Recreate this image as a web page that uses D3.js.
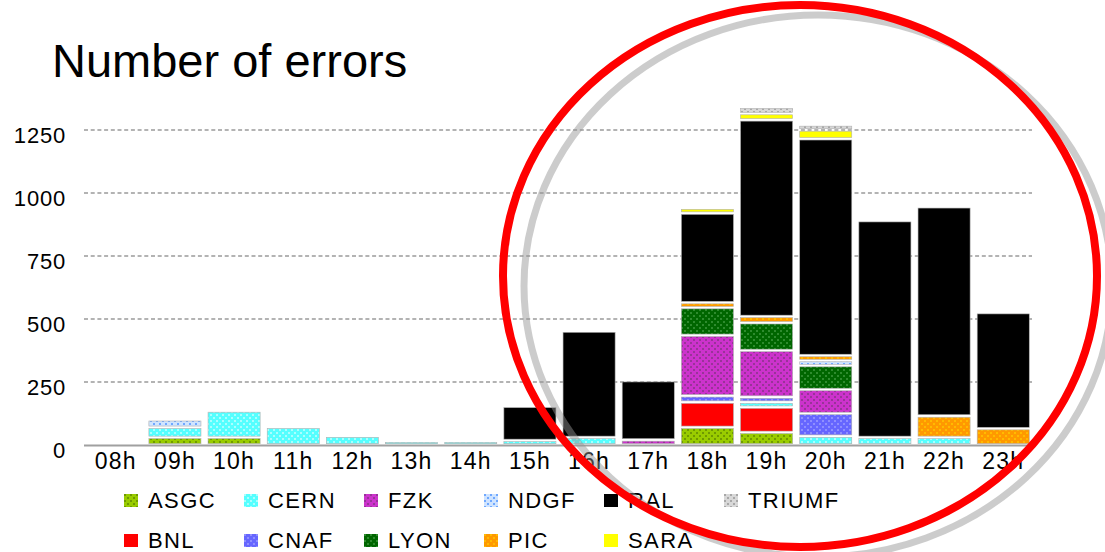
<!DOCTYPE html>
<html>
<head>
<meta charset="utf-8">
<script src="https://cdn.jsdelivr.net/npm/d3@7/dist/d3.min.js"></script>
<style>
  html, body { margin: 0; padding: 0; background: #fff; }
  svg { display: block; }
  text { font-family: "Liberation Sans", Arial, Helvetica, sans-serif; fill: #000; }
</style>
</head>
<body>
<svg id="chart" width="1105" height="552"></svg>
<script>
// Hourly error counts per site, stacked in alphabetical order
const hours = ["08h","09h","10h","11h","12h","13h","14h","15h","16h","17h","18h","19h","20h","21h","22h","23h"];
const sites = ["ASGC","BNL","CERN","CNAF","FZK","LYON","NDGF","PIC","RAL","SARA","TRIUMF"];

const asgc   = [0, 30, 30,  0,  0,  0,  0,   0,   0,   0,  70,  50,   0,   0,   0,   0];
const bnl    = [0,  0,  0,  0,  0,  0,  0,   0,   0,   0, 100, 100,   0,   0,   0,   0];
const cern   = [0, 40,105, 70, 35, 15, 15,  18,  30,   0,   0,  20,  35,  30,  30,   0];
const cnaf   = [0,  0,  0,  0,  0,  0,  0,   0,   0,   0,  25,  20,  90,   0,   0,   0];
const fzk    = [0,  0,  0,  0,  0,  0,  0,   0,   0,  20, 240, 185,  95,   0,   0,   0];
const lyon   = [0,  0,  0,  0,  0,  0,  0,   0,   0,   0, 110, 110,  95,   0,   0,   0];
const ndgf   = [0, 30,  0,  0,  0,  0,  0,   0,   0,   0,   0,   0,  20,   0,   0,   0];
const pic    = [0,  0,  0,  0,  0,  0,  0,   0,   0,   0,  20,  25,  20,   0,  85,  65];
const ral    = [0,  0,  0,  0,  0,  0,  0, 135, 422, 235, 355, 780, 860, 860, 830, 460];
const sara   = [0,  0,  0,  0,  0,  0,  0,   0,   0,   0,  20,  25,  35,   0,   0,   0];
const triumf = [0,  0,  0,  0,  0,  0,  0,   0,   0,   0,   0,  25,  20,   0,   0,   0];

const yTicks = [0, 250, 500, 750, 1000, 1250];

const seriesValues = { ASGC: asgc, BNL: bnl, CERN: cern, CNAF: cnaf, FZK: fzk, LYON: lyon,
                       NDGF: ndgf, PIC: pic, RAL: ral, SARA: sara, TRIUMF: triumf };

// Fill styles: base colour plus an optional dotted texture
const styles = {
  ASGC:   { base: "#99cc00", dot: "#6f9a00" },
  BNL:    { base: "#ff0000" },
  CERN:   { base: "#55ffff", dot: "#aaffff" },
  CNAF:   { base: "#6666ff", dot: "#8f8fff" },
  FZK:    { base: "#cc33cc", dot: "#993399" },
  LYON:   { base: "#006600", dot: "#2e8b2e" },
  NDGF:   { base: "#cfe4ff", dot: "#6fa8ff" },
  PIC:    { base: "#ff9900", dot: "#ffbb00" },
  RAL:    { base: "#000000" },
  SARA:   { base: "#ffff00" },
  TRIUMF: { base: "#d8d8d8", dot: "#a8a8a8" }
};

const table = hours.map((h, i) => {
  const row = { hour: h };
  sites.forEach(s => { row[s] = seriesValues[s][i]; });
  return row;
});

const svg = d3.select("#chart");

// Patterns
const defs = svg.append("defs");
sites.forEach(s => {
  const st = styles[s];
  if (!st.dot) return;
  const p = defs.append("pattern")
    .attr("id", "pat-" + s)
    .attr("patternUnits", "userSpaceOnUse")
    .attr("width", 6).attr("height", 6);
  p.append("rect").attr("width", 6).attr("height", 6).attr("fill", st.base);
  p.append("rect").attr("x", 0).attr("y", 0).attr("width", 2).attr("height", 2).attr("fill", st.dot);
  p.append("rect").attr("x", 3).attr("y", 3).attr("width", 2).attr("height", 2).attr("fill", st.dot);
});
const fillOf = s => styles[s].dot ? "url(#pat-" + s + ")" : styles[s].base;

// Scales
const x = d3.scaleBand().domain(hours).range([85, 1034]).paddingInner(0.12).paddingOuter(0.08);
const y = d3.scaleLinear().domain([0, 1250]).range([445, 130]);

// Title
svg.append("text")
  .attr("x", 52).attr("y", 77)
  .attr("font-size", 47)
  .text("Number of errors");

// Dashed gridlines
svg.append("g").selectAll("line")
  .data(yTicks.filter(d => d > 0))
  .join("line")
  .attr("x1", 84).attr("x2", 1032)
  .attr("y1", d => y(d)).attr("y2", d => y(d))
  .attr("stroke", "#9a9a9a")
  .attr("stroke-width", 1.3)
  .attr("stroke-dasharray", "4,2.7");

// Y axis labels
const yAxis = d3.axisLeft(y).tickValues(yTicks).tickFormat(d3.format("d")).tickSize(0).tickPadding(0);
const gy = svg.append("g").attr("transform", "translate(66,5)").call(yAxis);
gy.select(".domain").remove();
gy.selectAll("text")
  .attr("font-size", 22)
  .attr("font-family", "Liberation Sans, Arial, sans-serif")
  .attr("letter-spacing", "0.8")
  .attr("fill", "#000");

// Stacked bars
const stack = d3.stack().keys(sites);
const layers = stack(table);

svg.append("g").selectAll("g")
  .data(layers)
  .join("g")
  .attr("fill", d => fillOf(d.key))
  .selectAll("rect")
  .data(d => d.filter(seg => seg[1] - seg[0] > 0))
  .join("rect")
  .attr("x", d => x(d.data.hour))
  .attr("width", x.bandwidth())
  .attr("y", d => y(d[1]) + 1.2)
  .attr("height", d => Math.max(1.2, y(d[0]) - y(d[1]) - 2.5))
  .attr("stroke", "#b0b0b0")
  .attr("stroke-width", 0.6);

// Baseline
svg.append("line")
  .attr("x1", 84).attr("x2", 1032)
  .attr("y1", y(0) + 0.5).attr("y2", y(0) + 0.5)
  .attr("stroke", "#a0a0a0")
  .attr("stroke-width", 2);

// X axis labels
const xAxis = d3.axisBottom(x).tickSize(0).tickPadding(0);
const gx = svg.append("g").attr("transform", "translate(0,453)").call(xAxis);
gx.select(".domain").remove();
gx.selectAll("text")
  .attr("font-size", 23)
  .attr("font-family", "Liberation Sans, Arial, sans-serif")
  .attr("letter-spacing", "1.2")
  .attr("fill", "#000");

// Legend: two rows, filled column by column
const legend = svg.append("g");
const legendItems = legend.selectAll("g")
  .data(sites)
  .join("g")
  .attr("transform", (d, i) => {
    const col = Math.floor(i / 2), row = i % 2;
    return "translate(" + (124 + col * 120) + "," + (494 + row * 40) + ")";
  });
legendItems.append("rect")
  .attr("width", 14).attr("height", 13)
  .attr("fill", d => fillOf(d));
legendItems.append("text")
  .attr("x", 24).attr("y", 13.5)
  .attr("font-size", 22)
  .attr("letter-spacing", "1.4")
  .text(d => d);

// Highlight ring with soft shadow
svg.append("ellipse")
  .attr("cx", 818).attr("cy", 286).attr("rx", 294).attr("ry", 271)
  .attr("fill", "none")
  .attr("stroke", "#929292").attr("stroke-opacity", 0.47)
  .attr("stroke-width", 7);
svg.append("ellipse")
  .attr("cx", 800).attr("cy", 276).attr("rx", 297).attr("ry", 271)
  .attr("fill", "none")
  .attr("stroke", "#ff0000")
  .attr("stroke-width", 8);
</script>
</body>
</html>
